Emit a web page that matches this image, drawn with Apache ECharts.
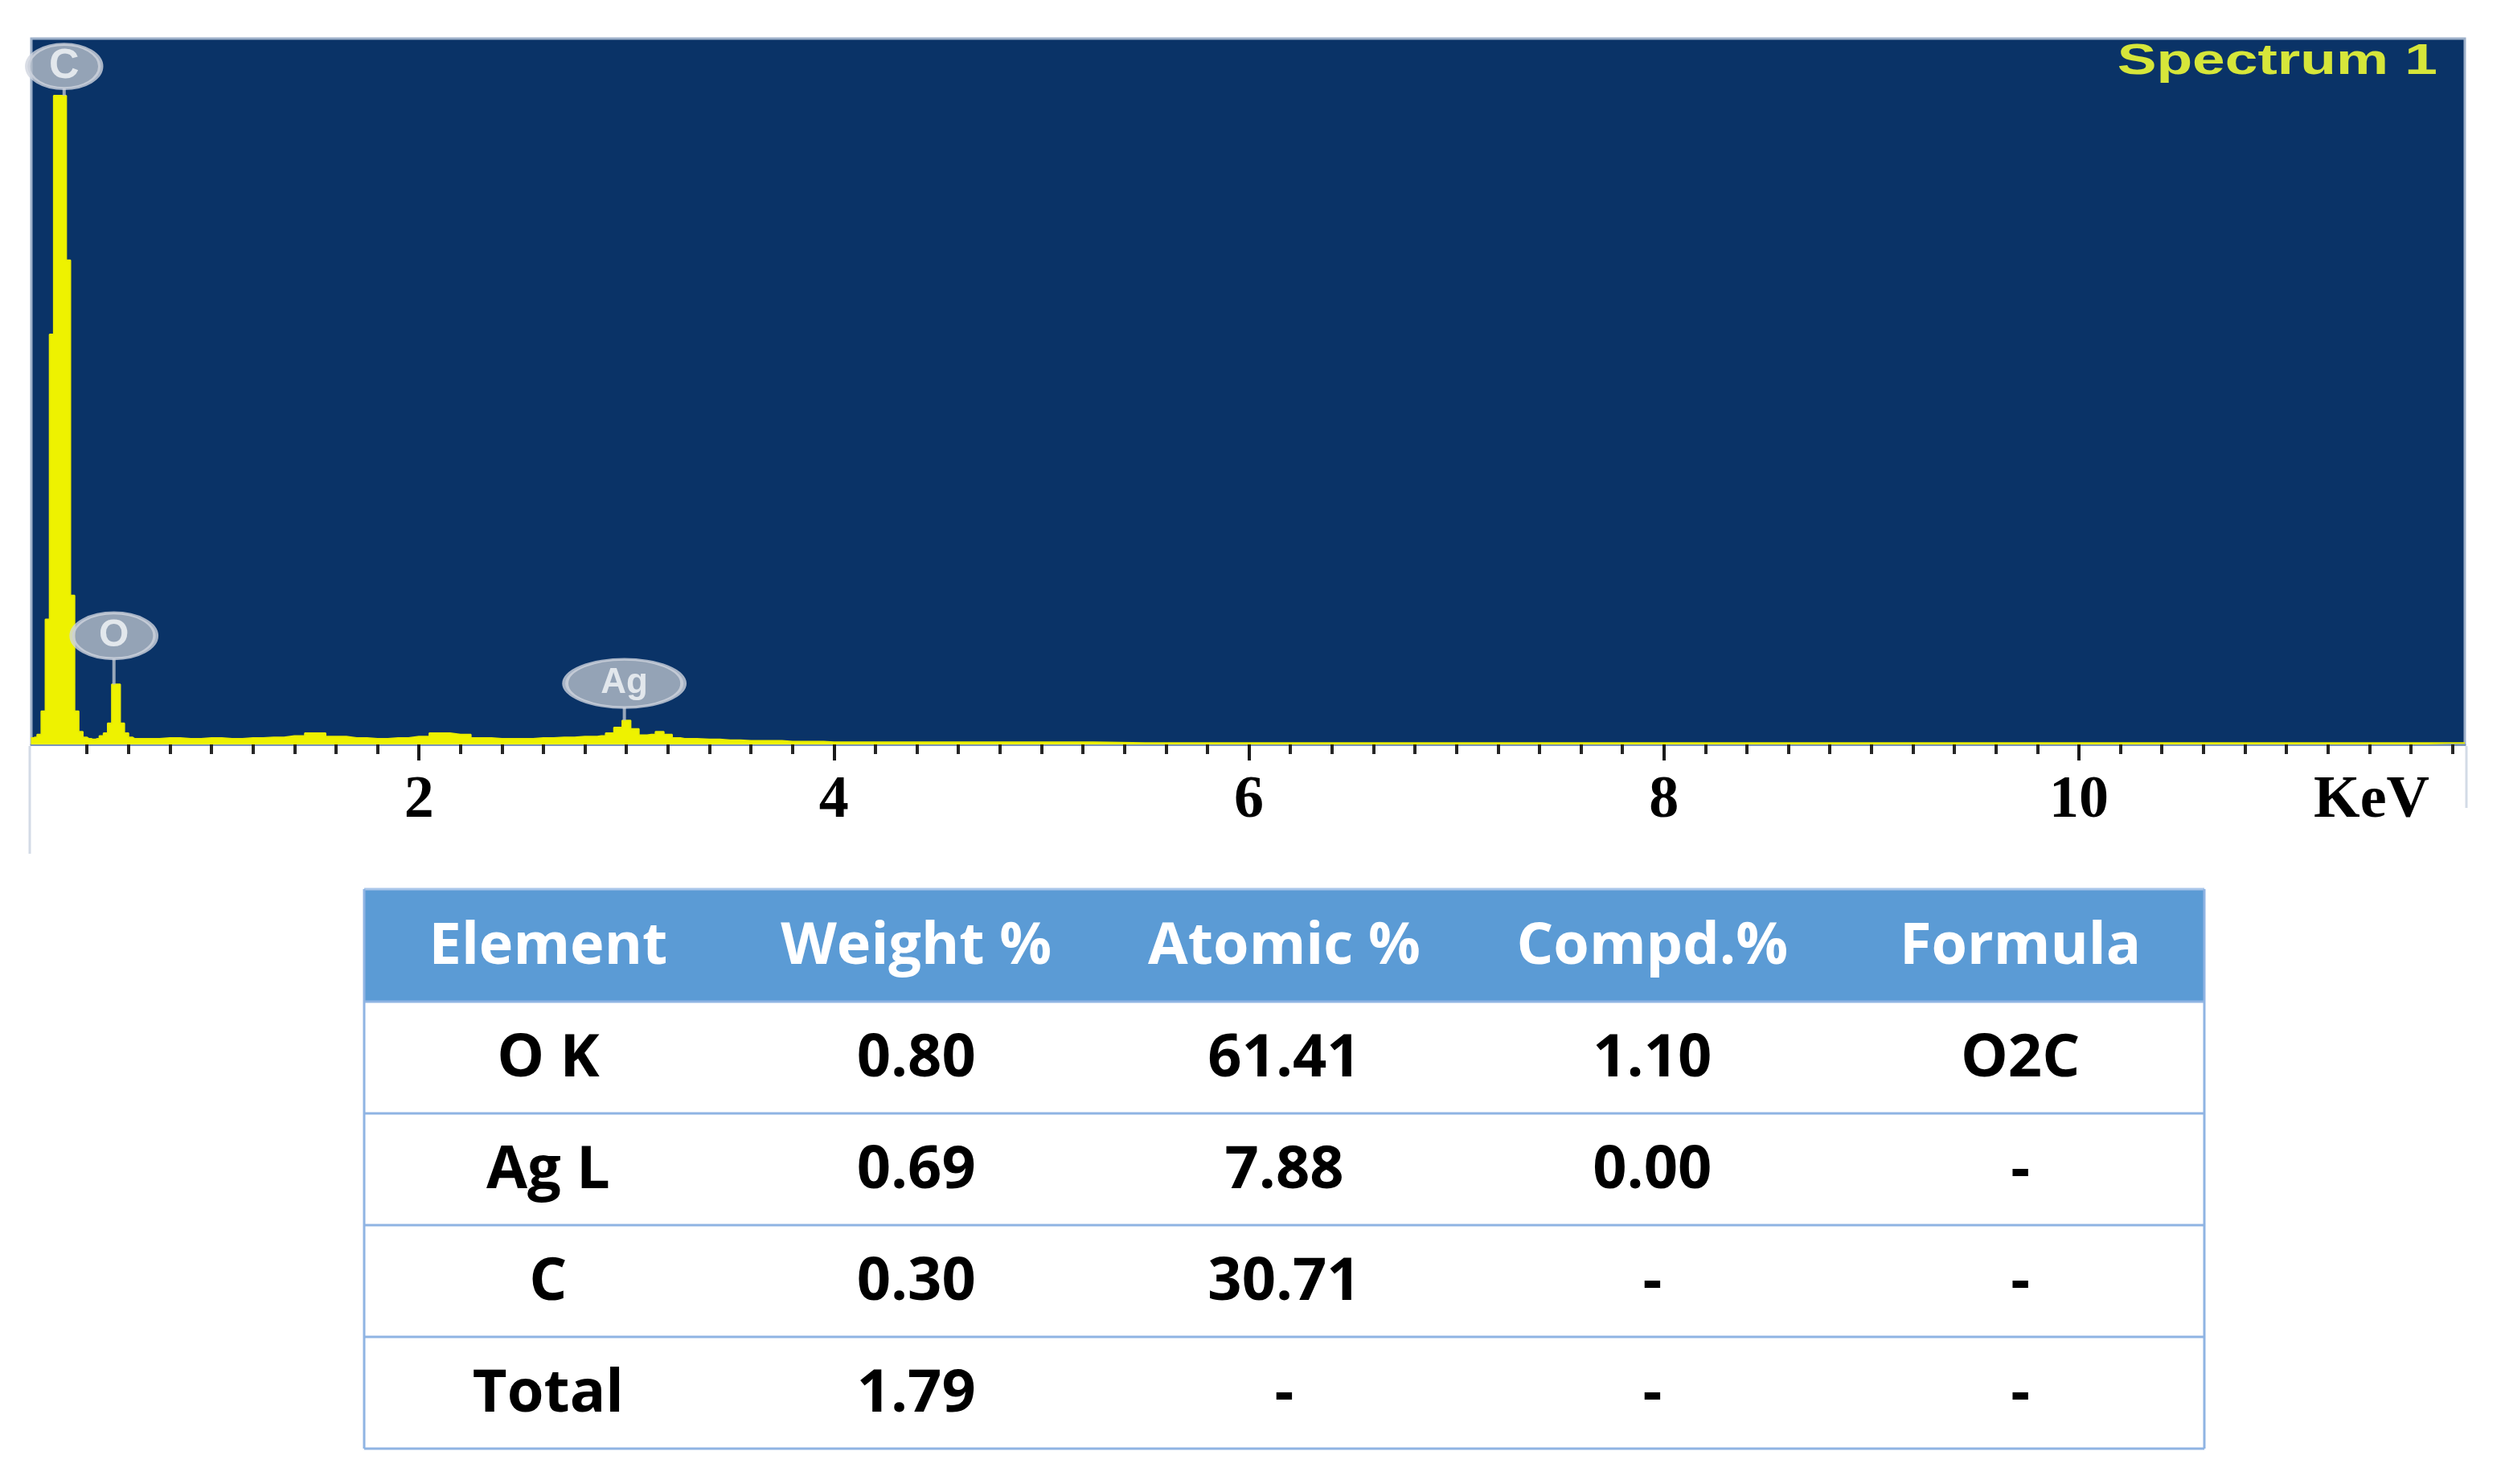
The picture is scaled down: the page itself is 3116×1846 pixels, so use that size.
<!DOCTYPE html>
<html>
<head>
<meta charset="utf-8">
<title>Spectrum 1</title>
<script src="https://cdn.jsdelivr.net/npm/echarts@6.0.0/dist/echarts.min.js"></script>
<style>
    html, body { margin: 0; padding: 0; background: #fff; }
    #main { width: 3116px; height: 1846px; }
</style>
</head>
<body>
<div id="main"></div>
<script>
// spectrum: channel energy (keV) and counts (arbitrary units)
var energy = [
    0.13, 0.15, 0.17, 0.19, 0.21, 0.23, 0.25, 0.27, 0.29, 0.31, 0.33, 0.35, 0.37, 0.39, 0.41, 0.43, 0.45, 0.47, 0.49, 0.51, 0.53, 0.55, 0.57, 0.59, 0.61, 0.63,
    0.7, 0.8, 0.9, 1.0, 1.1, 1.2, 1.3, 1.4, 1.5, 1.6, 1.7, 1.8, 1.9, 2.0, 2.1, 2.2, 2.3, 2.4, 2.5, 2.6, 2.7, 2.8,
    2.84, 2.88, 2.92, 2.96, 3.00, 3.04, 3.08, 3.12, 3.16, 3.20, 3.24, 3.28,
    3.4, 3.5, 3.6, 3.7, 3.8, 3.9, 4.0, 4.5, 5.0, 5.5, 6.0, 6.5, 7.0, 7.5, 8.0, 8.5, 9.0, 9.5, 10.0, 10.5, 11.0, 11.5, 11.86
];
var counts = [
    9, 10, 14, 47, 177, 581, 919, 919, 919, 686, 211, 47, 18, 10, 8, 7, 8, 12, 16, 30, 85, 85, 30, 16, 10, 8,
    8, 9, 8, 9, 8, 9, 10, 12, 16, 11, 9, 8, 9, 11, 16, 14, 9, 8, 8, 9, 10, 11,
    11, 12, 16, 24, 34, 22, 13, 14, 18, 14, 9, 8,
    7, 6, 5, 5, 4, 4, 3, 3, 3, 2, 2, 2, 2, 2, 2, 2, 2, 2, 2, 2, 2, 2, 2
];

// labelled peaks
var peakNames = ['C', 'O', 'Ag'];
var peakEnergy = [0.29, 0.53, 2.99];
var peakCounts = [919, 85, 34];

// x axis ticks (keV)
var majorTicks = [2, 4, 6, 8, 10];
var axisName = 'KeV';
var spectrumName = 'Spectrum 1';

// quantification table
var tableHeader = ['Element', 'Weight %', 'Atomic %', 'Compd.%', 'Formula'];
var elementCol = ['O K', 'Ag L', 'C', 'Total'];
var weightCol = ['0.80', '0.69', '0.30', '1.79'];
var atomicCol = ['61.41', '7.88', '30.71', '-'];
var compdCol = ['1.10', '0.00', '-', '-'];
var formulaCol = ['O2C', '-', '-', '-'];

var badgeStyle = {
    C: { w: 91, h: 55, stem: 9, font: 52 },
    O: { w: 104, h: 57, stem: 32, font: 48 },
    Ag: { w: 147, h: 60, stem: 16, font: 44 }
};

var minorTicks = [];
for (var t = 2; t <= 59; t++) {
    minorTicks.push(Math.round(t * 2) / 10);
}

function buildSpectrum() {
    var arr = [];
    for (var i = 0; i < energy.length; i++) {
        arr.push([energy[i], counts[i]]);
    }
    return arr;
}

function buildBadges() {
    var stems = [], badges = [];
    for (var i = 0; i < peakNames.length; i++) {
        var s = badgeStyle[peakNames[i]];
        stems.push({
            value: [peakEnergy[i], peakCounts[i]],
            symbolSize: [4, s.stem],
            symbolOffset: [0, -s.stem / 2]
        });
        badges.push({
            name: peakNames[i],
            value: [peakEnergy[i], peakCounts[i]],
            symbolSize: [s.w, s.h],
            symbolOffset: [0, -(s.stem + s.h / 2)],
            label: {
                show: true, position: 'inside', formatter: '{b}',
                color: '#f5f7fa', fontFamily: 'Liberation Sans', fontWeight: 'bold', fontSize: s.font
            }
        });
    }
    return { stems: stems, badges: badges };
}

function buildTable() {
    var left = 453, top = 1106, colW = 457.8, headH = 140, rowH = 139;
    var width = colW * tableHeader.length;
    var lineColor = '#8fb4e3';
    var cols = [elementCol, weightCol, atomicCol, compdCol, formulaCol];
    var els = [];
    els.push({ type: 'rect', shape: { x: left, y: top, width: width, height: headH }, style: { fill: '#5b9bd5' } });
    for (var c = 0; c < tableHeader.length; c++) {
        els.push({
            type: 'text',
            x: left + colW * (c + 0.5), y: top + headH / 2 + 2,
            style: {
                text: tableHeader[c], fill: '#fff', font: 'bold 72px "Open Sans"',
                align: 'center', verticalAlign: 'middle', textAlign: 'center', textVerticalAlign: 'middle'
            }
        });
    }
    var nRows = elementCol.length;
    for (var r = 0; r < nRows; r++) {
        var y0 = top + headH + rowH * r;
        for (var c2 = 0; c2 < cols.length; c2++) {
            els.push({
                type: 'text',
                x: left + colW * (c2 + 0.5), y: y0 + rowH / 2 + 2,
                style: {
                    text: cols[c2][r], fill: '#000', font: 'bold 74px "Open Sans"',
                    align: 'center', verticalAlign: 'middle', textAlign: 'center', textVerticalAlign: 'middle'
                }
            });
        }
        els.push({ type: 'line', shape: { x1: left, y1: y0, x2: left + width, y2: y0 }, style: { stroke: lineColor, lineWidth: 3 } });
    }
    var bottom = top + headH + rowH * nRows;
    els.push({ type: 'line', shape: { x1: left, y1: top, x2: left + width, y2: top }, style: { stroke: '#a9c6ea', lineWidth: 3 } });
    els.push({ type: 'line', shape: { x1: left, y1: bottom, x2: left + width, y2: bottom }, style: { stroke: lineColor, lineWidth: 3 } });
    els.push({ type: 'line', shape: { x1: left, y1: top, x2: left, y2: bottom }, style: { stroke: lineColor, lineWidth: 3 } });
    els.push({ type: 'line', shape: { x1: left + width, y1: top, x2: left + width, y2: bottom }, style: { stroke: lineColor, lineWidth: 3 } });
    return els;
}

var marks = buildBadges();
var graphics = buildTable();
graphics.push({
    type: 'text', x: 3032, y: 77, scaleX: 1.38, z: 100,
    style: {
        text: spectrumName, fill: '#d6e63a', font: 'bold 53px "Liberation Sans"',
        align: 'right', verticalAlign: 'middle', textAlign: 'right', textVerticalAlign: 'middle'
    }
});
// light edges continuing below the panel
graphics.push({ type: 'line', shape: { x1: 37, y1: 928, x2: 37, y2: 1062 }, style: { stroke: '#d3dbe6', lineWidth: 3 } });
graphics.push({ type: 'line', shape: { x1: 3068, y1: 928, x2: 3068, y2: 1005 }, style: { stroke: '#d3dbe6', lineWidth: 3 } });

var option = {
    backgroundColor: '#ffffff',
    animation: false,
    grid: {
        left: 39, right: 50, top: 48, bottom: 920,
        show: true,
        backgroundColor: '#0a3367',
        borderColor: '#9db0c9',
        borderWidth: 3
    },
    xAxis: [{
        type: 'value', min: 0.132, max: 11.86, position: 'bottom',
        axisLine: { show: true, lineStyle: { color: '#7c95b8', width: 3 } },
        axisTick: { show: true, customValues: minorTicks, length: 12, lineStyle: { color: '#262626', width: 4 } },
        axisLabel: { show: false },
        splitLine: { show: false }
    }, {
        type: 'value', min: 0.132, max: 11.86, position: 'bottom',
        axisLine: { show: false },
        axisTick: { show: true, customValues: majorTicks, length: 20, lineStyle: { color: '#1a1a1a', width: 4 } },
        axisLabel: {
            show: true, customValues: majorTicks, margin: 34,
            fontFamily: 'Liberation Serif', fontWeight: 'bold', fontSize: 74, color: '#000'
        },
        splitLine: { show: false },
        name: axisName, nameLocation: 'end', nameGap: -116,
        nameTextStyle: {
            fontFamily: 'Liberation Serif', fontWeight: 'bold', fontSize: 74, color: '#000',
            align: 'center', verticalAlign: 'top', padding: [34, 0, 0, 0]
        }
    }],
    yAxis: { type: 'value', min: 0, max: 1000, show: false },
    series: [{
        type: 'line',
        name: spectrumName,
        xAxisIndex: 0,
        step: 'middle',
        showSymbol: false,
        data: buildSpectrum(),
        lineStyle: { color: '#e9ec00', width: 2 },
        areaStyle: { color: '#eef200', opacity: 1 },
        z: 2
    }, {
        type: 'scatter',
        xAxisIndex: 0,
        symbol: 'rect',
        data: marks.stems,
        itemStyle: { color: '#bcc4cf' },
        z: 3
    }, {
        type: 'scatter',
        xAxisIndex: 0,
        symbol: 'circle',
        data: marks.badges,
        itemStyle: { color: '#b6bfcb', borderColor: '#cfd5de', borderWidth: 5 },
        label: {
            show: true, position: 'inside', formatter: '{b}',
            color: '#f5f7fa', fontFamily: 'Liberation Sans', fontWeight: 'bold', fontSize: 48
        },
        z: 4
    }],
    graphic: graphics
};

var myChart = echarts.init(document.getElementById('main'));
myChart.setOption(option);
</script>
</body>
</html>
